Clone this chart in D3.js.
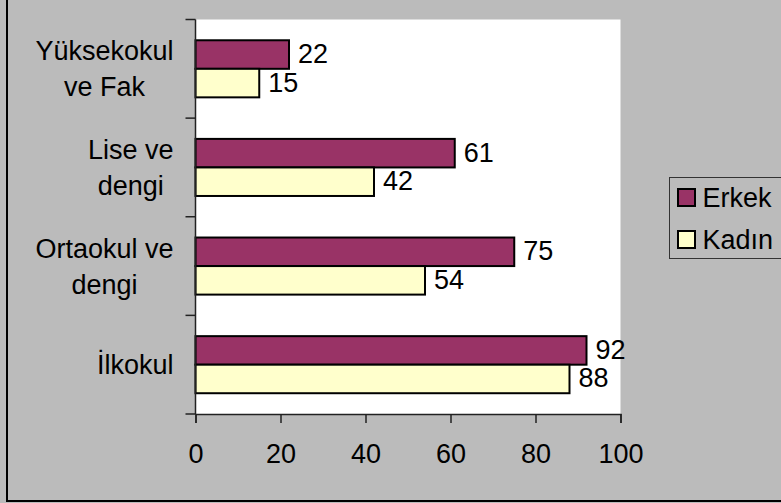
<!doctype html>
<html lang="tr">
<head>
    <meta charset="UTF-8">
    <title>Eğitim durumu</title>
    <script src="https://d3js.org/d3.v7.min.js"></script>
    <style>
        body { margin: 0; background: #bbbbbb; }
        text { font-family: "Liberation Sans", Arial, sans-serif; fill: #000; }
    </style>
</head>
<body>
<div id="chart-area"></div>

<script>

const categories = [ 'Yüksekokul ve Fak', 'Lise ve dengi', 'Ortaokul ve dengi', 'İlkokul' ];
// how each label is broken into lines
const categoryLines = [ [ 'Yüksekokul', 've Fak' ], [ 'Lise ve', 'dengi' ], [ 'Ortaokul ve', 'dengi' ], [ 'İlkokul' ] ];
const seriesNames = [ 'Erkek', 'Kadın' ];
const erkek = [ 22, 61, 75, 92 ];
const kadin = [ 15, 42, 54, 88 ];
const xTicks = [ 0, 20, 40, 60, 80, 100 ];
const colors = [ '#993366', '#ffffcc' ];

const W = 781, H = 503;
const margin = { top: 19.5, right: 160.5, bottom: 89, left: 195.5 };
const chartW = W - margin.left - margin.right;
const chartH = H - margin.top - margin.bottom;
const fontSize = 27;

const svg = d3.select('#chart-area')
    .append('svg')
    .attr('width', W)
    .attr('height', H);

svg.append('rect')
    .attr('x', 0).attr('y', 0)
    .attr('width', W).attr('height', H)
    .attr('fill', '#bbbbbb');

// outer frame, only left and bottom edges are in view
svg.append('rect')
    .attr('x', 7).attr('y', -10)
    .attr('width', W + 20).attr('height', 511)
    .attr('fill', 'none')
    .attr('stroke', '#000')
    .attr('stroke-width', 2);

const g = svg.append('g')
    .attr('transform', `translate(${margin.left},${margin.top})`);

g.append('rect')
    .attr('width', chartW)
    .attr('height', chartH)
    .attr('fill', '#fff');

const x = d3.scaleLinear()
    .domain([ 0, 100 ])
    .range([ 0, chartW ]);

const y0 = d3.scaleBand()
    .domain(categories)
    .range([ 0, chartH ]);

const y1 = d3.scaleBand()
    .domain(seriesNames)
    .range([ 0, y0.bandwidth() ])
    .paddingOuter(0.728);

const data = categories.map((c, i) => ({
    cat: c,
    values: [ { s: 'Erkek', v: erkek[i] }, { s: 'Kadın', v: kadin[i] } ]
}));

const groups = g.selectAll('g.grp')
    .data(data)
    .enter()
    .append('g')
        .attr('class', 'grp')
        .attr('transform', d => `translate(0,${y0(d.cat)})`);

groups.selectAll('rect')
    .data(d => d.values)
    .enter()
    .append('rect')
        .attr('x', 0)
        .attr('y', d => y1(d.s))
        .attr('width', d => x(d.v))
        .attr('height', y1.bandwidth())
        .attr('fill', d => colors[seriesNames.indexOf(d.s)])
        .attr('stroke', '#000')
        .attr('stroke-width', 2);

groups.selectAll('text.val')
    .data(d => d.values)
    .enter()
    .append('text')
        .attr('class', 'val')
        .attr('x', d => x(d.v) + 9)
        .attr('y', d => y1(d.s) + y1.bandwidth() / 2 + 8.5)
        .style('font-size', fontSize + 'px')
        .text(d => d.v);

// x axis
const xAxis = g.append('g')
    .attr('transform', `translate(0,${chartH})`)
    .call(d3.axisBottom(x).tickValues(xTicks).tickSize(9).tickPadding(21));
xAxis.select('.domain').attr('stroke', '#222').attr('stroke-width', 1.5);
xAxis.selectAll('.tick line').attr('stroke', '#222').attr('stroke-width', 1.5);
xAxis.selectAll('.tick text')
    .style('font-size', fontSize + 'px')
    .style('font-family', '"Liberation Sans", Arial, sans-serif');

// y axis: ticks between categories
const yBounds = categories.map(c => y0(c)).concat([ chartH ]);
g.append('line')
    .attr('x1', 0).attr('x2', 0)
    .attr('y1', 0).attr('y2', chartH)
    .attr('stroke', '#222').attr('stroke-width', 1.5);
g.selectAll('line.ytick')
    .data(yBounds)
    .enter()
    .append('line')
        .attr('class', 'ytick')
        .attr('x1', -10).attr('x2', 0)
        .attr('y1', d => d).attr('y2', d => d)
        .attr('stroke', '#222').attr('stroke-width', 1.5);

// category labels, lines centred in a block that ends at a fixed right edge
const lineH = 36;
categories.forEach((c, i) => {
    const lines = categoryLines[i];
    const cy = y0(c) + y0.bandwidth() / 2;
    const label = g.append('text')
        .style('font-size', fontSize + 'px')
        .attr('text-anchor', 'middle');
    lines.forEach((l, j) => {
        label.append('tspan')
            .attr('x', 0)
            .attr('y', cy + 9.5 - (lines.length - 1) * lineH / 2 + j * lineH)
            .text(l);
    });
    const bb = label.node().getBBox();
    label.selectAll('tspan').attr('x', -22 - bb.width / 2);
});

// legend
const legend = svg.append('g')
    .attr('transform', 'translate(669.5,177.5)');
legend.append('rect')
    .attr('width', 120)
    .attr('height', 81)
    .attr('fill', '#bbbbbb')
    .attr('stroke', '#333')
    .attr('stroke-width', 1);
seriesNames.forEach((s, i) => {
    legend.append('rect')
        .attr('x', 8.5)
        .attr('y', 11.5 + i * 42)
        .attr('width', 17)
        .attr('height', 17)
        .attr('fill', colors[i])
        .attr('stroke', '#000')
        .attr('stroke-width', 2);
    legend.append('text')
        .attr('x', 33)
        .attr('y', 29 + i * 42)
        .style('font-size', fontSize + 'px')
        .text(s);
});

</script>

</body>
</html>
